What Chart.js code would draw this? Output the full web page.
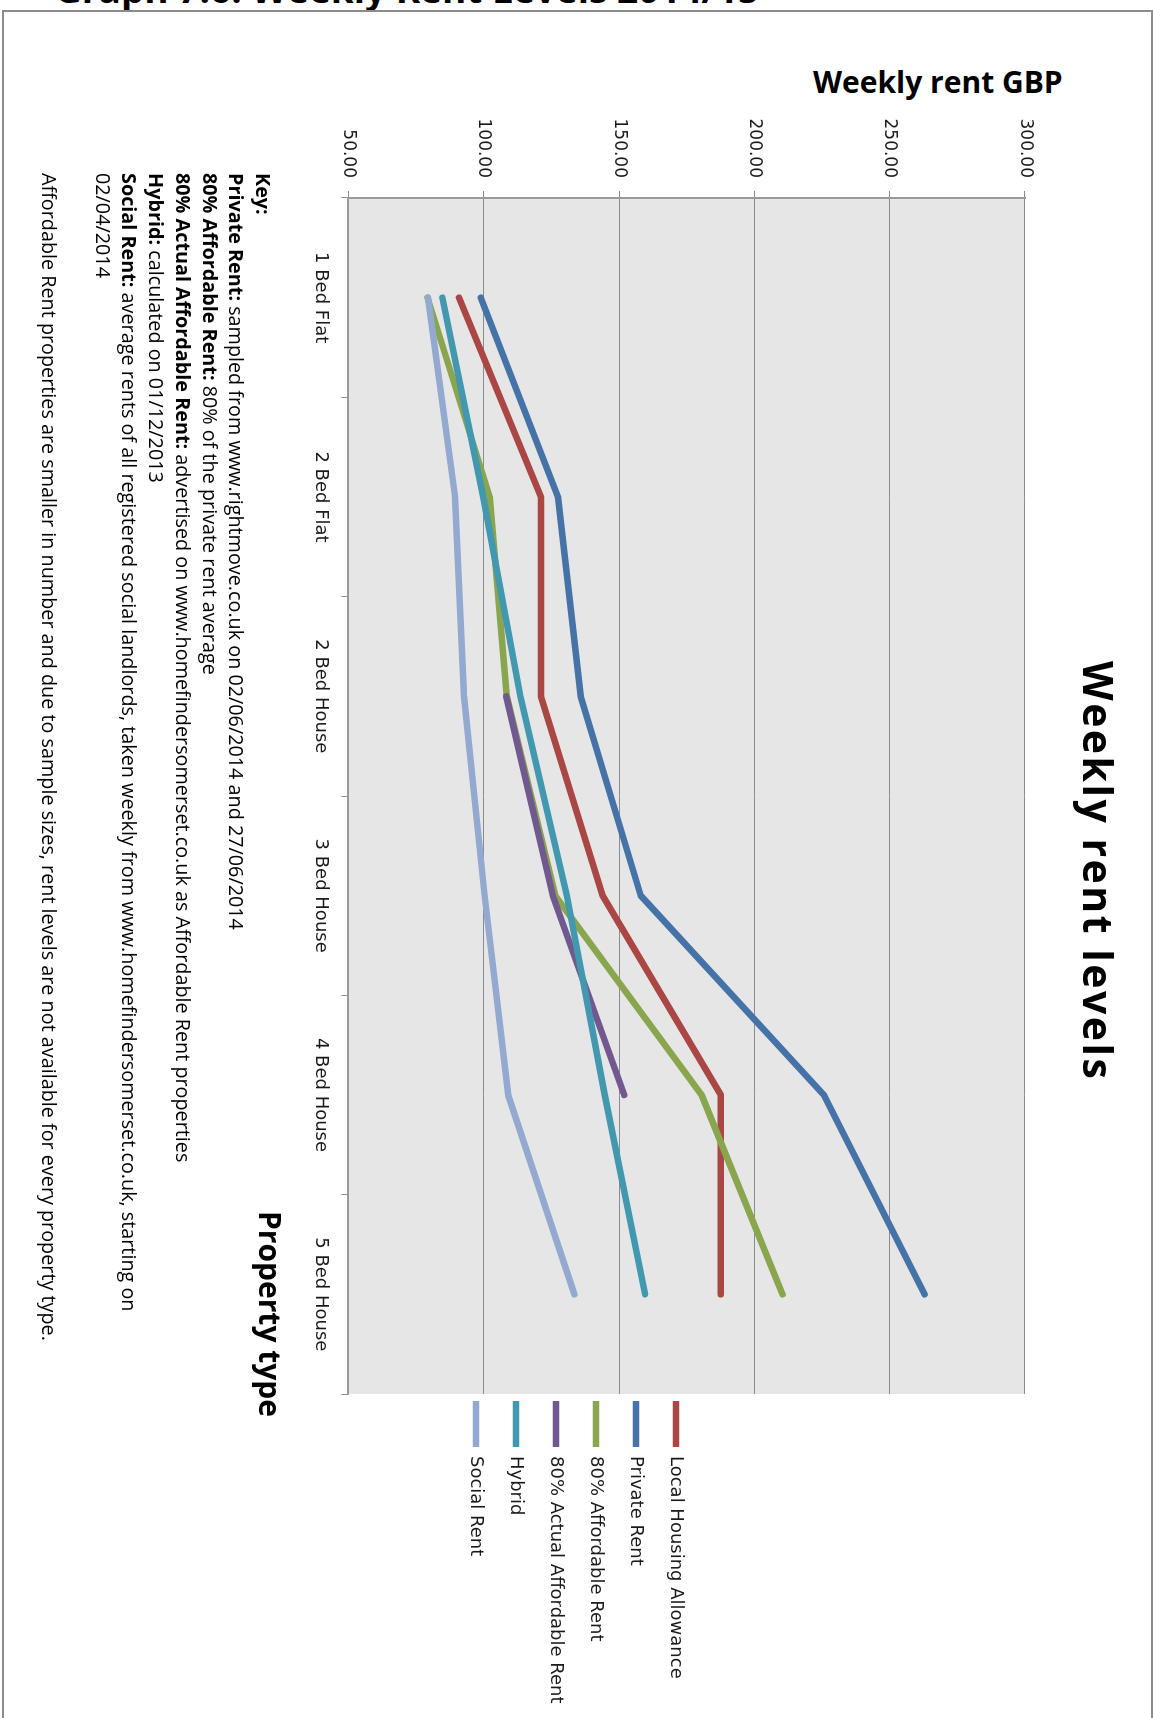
<!DOCTYPE html>
<html lang="en">
<head>
<meta charset="utf-8">
<title>Weekly rent levels</title>
<script src="https://cdn.jsdelivr.net/npm/chart.js@4.4.1/dist/chart.umd.min.js"></script>
<style>
  html, body { margin: 0; padding: 0; background: #fff; }
  body { width: 1153px; height: 1718px; overflow: hidden; position: relative; font-family: 'Open Sans', sans-serif; color: #000; }
  #heading { position: absolute; left: 55px; top: -30px; font-size: 37px; line-height: 37px; font-weight: 700; white-space: nowrap; }
  #box { position: absolute; left: 2px; top: 10px; width: 1147px; height: 1800px; border: 2px solid #8c8c8c; }
  #yTitle { position: absolute; left: 813px; top: 67px; font-size: 30px; line-height: 30px; font-weight: 700; white-space: nowrap; }
  /* the whole chart is laid out on its side */
  #frame { position: absolute; left: 1120px; top: 20px; width: 1698px; height: 1100px; transform-origin: 0 0; transform: rotate(90deg); }
  #frame canvas { position: absolute; left: 0; top: 0; }
  #chartTitle { position: absolute; left: 641px; top: 1px; font-size: 41px; line-height: 41px; font-weight: 700; letter-spacing: 2.5px; white-space: nowrap; }
  #xTitle { position: absolute; left: 1191px; top: 835px; font-size: 30px; line-height: 30px; font-weight: 700; white-space: nowrap; }
  #key { position: absolute; left: 153px; top: 844px; font-size: 19.8px; line-height: 26.7px; white-space: nowrap; }
</style>
</head>
<body>
<div id="heading">Graph 7.6: Weekly Rent Levels 2014/15</div>
<div id="box"></div>
<div id="yTitle">Weekly rent GBP</div>
<div id="frame">
  <canvas id="rentChart" width="1698" height="993"></canvas>
  <div id="chartTitle">Weekly rent levels</div>
  <div id="xTitle">Property type</div>
  <div id="key">
    <b>Key:</b><br>
    <b>Private Rent:</b> sampled from www.rightmove.co.uk on 02/06/2014 and 27/06/2014<br>
    <b>80% Affordable Rent:</b> 80% of the private rent average<br>
    <b>80% Actual Affordable Rent:</b> advertised on www.homefindersomerset.co.uk as Affordable Rent properties<br>
    <b>Hybrid:</b> calculated on 01/12/2013<br>
    <b>Social Rent:</b> average rents of all registered social landlords, taken weekly from www.homefindersomerset.co.uk, starting on<br>
    02/04/2014<br>
    <br>
    Affordable Rent properties are smaller in number and due to sample sizes, rent levels are not available for every property type.
  </div>
</div>

<script>
// Weekly rent (GBP) per property type
const propertyTypes = ['1 Bed Flat', '2 Bed Flat', '2 Bed House', '3 Bed House', '4 Bed House', '5 Bed House'];
const localHousingAllowance = [90.8, 121.1, 121.1, 143.9, 187.6, 187.6];
const privateRent = [98.9, 127.4, 135.8, 158.0, 225.7, 262.9];
const affordableRent80 = [79.2, 102.2, 108.5, 126.4, 180.5, 210.4];
const actualAffordableRent80 = [null, null, 108.3, 125.5, 151.9, null];
const hybridRent = [84.7, 99.8, 113.5, 130.7, 144.7, 159.6];
const socialRent = [79.4, 89.4, 92.7, 100.3, 109.0, 133.5];
const rentTicks = [50, 100, 150, 200, 250, 300];

const tickFont = { family: 'DejaVu Sans', size: 17 };
const gridColor = '#8c8c8c';
const axisColor = '#9a9a9a';

function serie(label, data, color) {
  return {
    label: label,
    data: data,
    borderColor: color,
    backgroundColor: color,
    borderWidth: 6.5,
    borderCapStyle: 'round',
    borderJoinStyle: 'round',
    pointRadius: 0,
    pointHoverRadius: 0,
    tension: 0,
    fill: false
  };
}

// first dataset is drawn on top
const datasets = [
  serie('Social Rent', socialRent, '#93A9CF'),
  serie('Hybrid', hybridRent, '#4198AF'),
  serie('80% Actual Affordable Rent', actualAffordableRent80, '#71588F'),
  serie('80% Affordable Rent', affordableRent80, '#89A54E'),
  serie('Private Rent', privateRent, '#4572A7'),
  serie('Local Housing Allowance', localHousingAllowance, '#AA4643')
];

// grey plot background
const plotFill = {
  id: 'plotFill',
  beforeDraw(chart) {
    const { ctx, chartArea: a } = chart;
    ctx.save();
    ctx.fillStyle = '#e6e6e6';
    ctx.fillRect(a.left, a.top, a.right - a.left, a.bottom - a.top);
    ctx.restore();
  }
};

// legend sits close to the plot, text may run past its box
const legendPlace = {
  id: 'legendPlace',
  afterLayout(chart) {
    const lg = chart.legend;
    lg.left = chart.chartArea.right + 7 - lg.options.labels.padding;
    lg.right = chart.width;
  }
};

const config = {
  type: 'line',
  data: { labels: propertyTypes, datasets: datasets },
  options: {
    responsive: false,
    animation: false,
    events: [],
    layout: { padding: { top: 95, right: 24, bottom: 0, left: 0 } },
    plugins: {
      title: { display: false },
      tooltip: { enabled: false },
      legend: {
        position: 'right',
        align: 'center',
        reverse: true,
        maxWidth: 300,
        labels: {
          usePointStyle: true,
          pointStyle: 'line',
          pointStyleWidth: 46,
          padding: 22,
          color: '#1a1a1a',
          font: { family: 'DejaVu Sans', size: 18 }
        }
      }
    },
    scales: {
      x: {
        offset: true,
        grid: { offset: true, drawOnChartArea: false, tickLength: 7, color: gridColor },
        border: { color: axisColor, width: 2 },
        ticks: { padding: 10, color: '#1a1a1a', font: { family: 'DejaVu Sans', size: 18 }, maxRotation: 0, autoSkip: false },
        afterFit: function(scale) { scale.height = 221.5; }
      },
      y: {
        min: rentTicks[0],
        max: rentTicks[rentTicks.length - 1],
        grid: { tickLength: 7, color: gridColor },
        border: { color: axisColor, width: 2 },
        ticks: { padding: 13, color: '#1a1a1a', font: tickFont, callback: v => v.toFixed(2) },
        afterBuildTicks: function(scale) { scale.ticks = rentTicks.map(v => ({ value: v })); },
        afterFit: function(scale) { scale.width = 178; }
      }
    }
  },
  plugins: [plotFill, legendPlace]
};

const rentChart = new Chart(document.getElementById('rentChart'), config);
</script>
</body>
</html>
